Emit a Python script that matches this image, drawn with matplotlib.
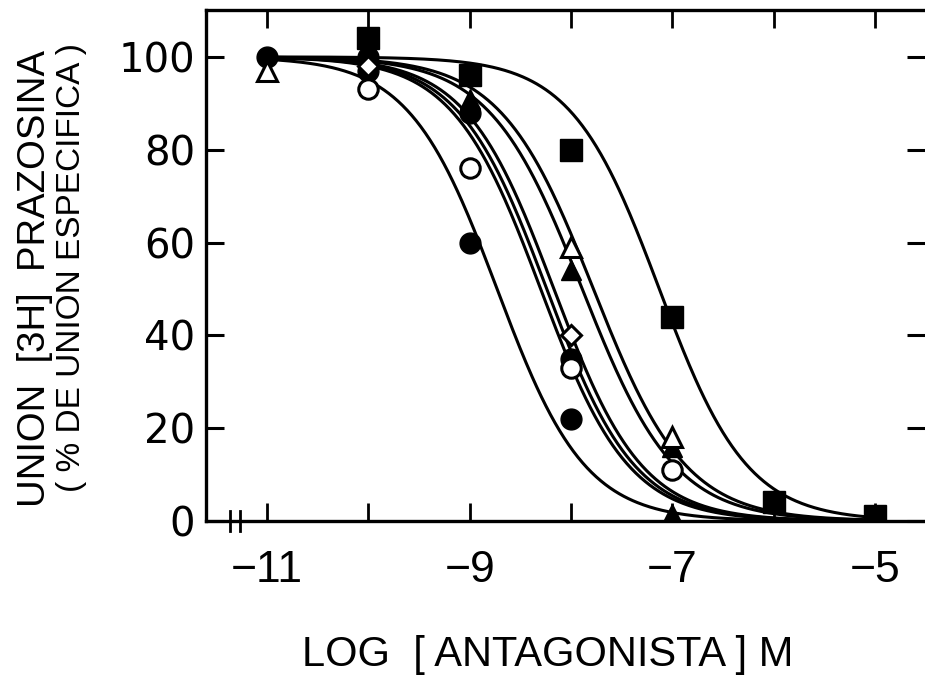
import numpy as np
import matplotlib
matplotlib.use("Agg")
import matplotlib.pyplot as plt
from matplotlib import font_manager

# Arial-like face for the labels, fall back if the sandbox lacks it
names = {f.name for f in font_manager.fontManager.ttflist}
regular = "Liberation Sans" if "Liberation Sans" in names else "DejaVu Sans"

# tick positions (log M)
x_ticks = [-11, -10, -9, -8, -7, -6, -5]
x_ticklabels = ["\u221211", "", "\u22129", "", "\u22127", "", "\u22125"]
y_ticks = [0, 20, 40, 60, 80, 100]

# points (% specific binding)
circ_a_x = [-11, -10, -9, -8]
circ_a_y = [100, 97, 60, 22]
circ_b_x = [-10, -9, -8]
circ_b_y = [100, 88, 35]
open_circ_x = [-10, -9, -8, -7]
open_circ_y = [93, 76, 33, 11]
diam_x = [-10, -8]
diam_y = [98, 40]
tri_x = [-9, -8, -7, -7]
tri_y = [91, 54, 16, 1.5]
open_tri_x = [-11, -8, -7]
open_tri_y = [97, 59, 18]
sq_x = [-10, -9, -8, -7, -6, -5]
sq_y = [104, 96, 80, 44, 4, 1]

# fitted competition curves: log IC50 and Hill slope
ic50 = [-8.73, -8.30, -8.24, -8.17, -7.89, -7.78, -7.13]
hill = [1.0, 1.0, 1.0, 1.0, 0.95, 0.95, 1.0]

W, H = 925, 682
fig = plt.figure(figsize=(W / 100, H / 100), dpi=100)
ax = fig.add_axes([206 / W, 1 - 521 / H, (925 - 206) / W, (521 - 10) / H])

lw = 2.2
xx = np.linspace(-11, -5, 400)
for c, n in zip(ic50, hill):
    yy = 100 / (1 + 10 ** ((xx - c) * n))
    ax.plot(xx, yy, color="black", lw=lw, zorder=2)

filled = dict(color="black", ls="none", zorder=4)
hollow = dict(ls="none", mfc="white", mec="black", mew=2.2, zorder=5)
ax.plot(circ_a_x, circ_a_y, marker="o", ms=15, **filled)
ax.plot(circ_b_x, circ_b_y, marker="o", ms=15, **filled)
ax.plot(tri_x, tri_y, marker="^", ms=15, **filled)
ax.plot(sq_x, sq_y, marker="s", ms=16, **filled)
ax.plot(open_circ_x, open_circ_y, marker="o", ms=14, **hollow)
ax.plot(diam_x, diam_y, marker="D", ms=10, **hollow)
ax.plot(open_tri_x, open_tri_y, marker="^", ms=14, **hollow)

ax.set_xlim(-11.60, -4.51)
ax.set_ylim(0, 110.1)

ax.set_xticks(x_ticks)
ax.set_xticklabels(x_ticklabels, fontfamily=regular, fontsize=32)
ax.set_yticks(y_ticks)
ax.set_yticklabels([str(v) for v in y_ticks], fontfamily="DejaVu Sans", fontsize=29)
ax.tick_params(axis="x", direction="in", length=13, width=2, top=True, pad=21)
ax.tick_params(axis="y", direction="in", length=13, width=2.2, right=True, pad=8)

for side in ["left", "bottom", "top"]:
    ax.spines[side].set_linewidth(2.4)
ax.spines["right"].set_visible(False)

# axis break on the x axis
for xb in [-11.36, -11.26]:
    ax.plot([xb, xb], [-2.2, 2.2], color="black", lw=2, clip_on=False, zorder=6)

fig.text(35 / W, 1 - 278 / H, "UNION  [3H]  PRAZOSINA", rotation=90,
         ha="center", va="center", fontfamily=regular, fontsize=27.5)
fig.text(72 / W, 1 - 268 / H, "( % DE UNION ESPECIFICA )", rotation=90,
         ha="center", va="center", fontfamily=regular, fontsize=24)
fig.text(548 / W, 1 - 655 / H, "LOG  [ ANTAGONISTA ] M",
         ha="center", va="center", fontfamily=regular, fontsize=30)

fig.savefig("out.png", dpi=100)
